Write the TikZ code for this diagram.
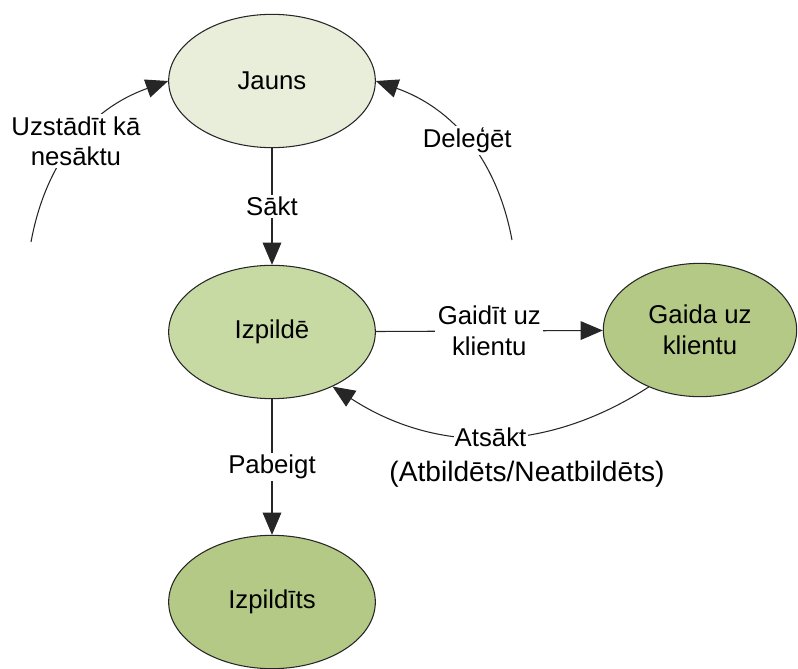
\documentclass[tikz,border=0pt]{standalone}
\usepackage{fontspec}
\setmainfont{Liberation Sans}
\usetikzlibrary{arrows.meta, positioning, shapes.geometric}
\definecolor{cpale}{HTML}{E9EEDA}
\definecolor{clight}{HTML}{C8DAA4}
\definecolor{cmid}{HTML}{B4C986}
\tikzset{
  every picture/.style={line width=0.9pt},
  state/.style={ellipse, draw=black!85, fill=#1, minimum width=6.2cm, minimum height=4cm, align=center, font=\fontsize{22}{26}\selectfont},
  state/.default=cmid,
  arrow/.style={-{Triangle[length=19pt, width=16pt]}, draw=black!85},
  lbl/.style={fill=white, inner sep=2pt, align=center, font=\fontsize{22}{26}\selectfont},
}

\begin{document}
\begin{tikzpicture}[x=0.03cm, y=-0.03cm]
  \useasboundingbox (0,0) rectangle (798,669);
  \node[state=cpale] (jauns) at (272,81) {Jauns};
  \node[state=clight] (izp) at (272,332) {Izpildē};
  \node[state, minimum width=5.8cm] (gaida) at (700,330) {Gaida uz\\klientu};
  \node[state] (izpd) at (272,602) {Izpildīts};
  \coordinate (uz) at (31,242);
  \coordinate (dl) at (512,240);
  \draw[arrow] (uz) to[bend left=30] node[lbl] {Uzstādīt kā\\nesāktu} (jauns.west);
  \draw[arrow] (dl) to[bend right=30] node[lbl] {Deleģēt} (jauns.east);
  \draw[arrow] (jauns) -- node[lbl] {Sākt} (izp);
  \draw[arrow] (izp) -- node[lbl] {Gaidīt uz\\klientu} (gaida);
  \draw[arrow] (gaida.228) to[bend left=33] node[lbl, inner sep=1pt] (atsakt) {Atsākt} (izp.318);
  \draw[arrow] (izp) -- node[lbl] {Pabeigt} (izpd);
  \node[lbl, font=\fontsize{24}{28}\selectfont] (piez) at (527,474) {(Atbildēts/Neatbildēts)};
\end{tikzpicture}
\end{document}
